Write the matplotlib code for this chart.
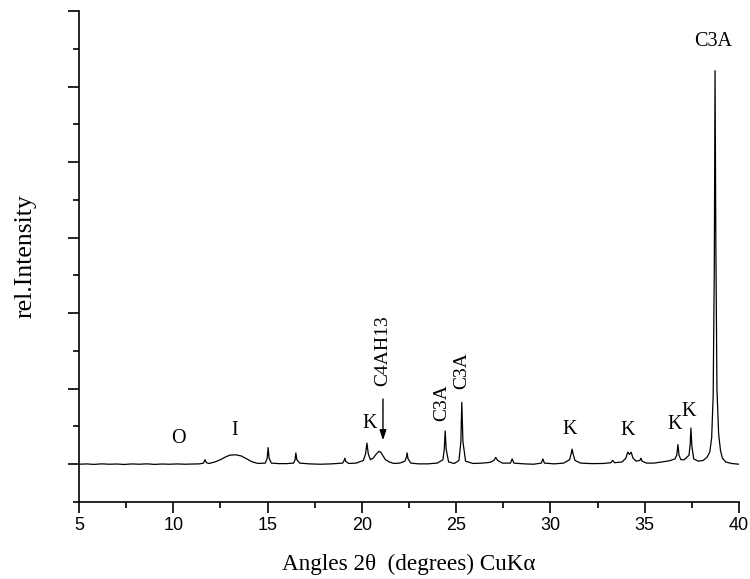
import matplotlib
matplotlib.use("Agg")
import matplotlib.pyplot as plt
from matplotlib.ticker import MultipleLocator

# XRD trace (2theta in degrees, relative intensity; baseline = 0)
two_theta = [5.0, 5.4, 5.8, 6.2, 6.6, 7.0, 7.4, 7.8, 8.2, 8.6, 9.0, 9.4, 9.8, 10.2, 10.6, 11.0, 11.4,
             11.6, 11.68, 11.76, 11.9, 12.2, 12.5, 12.8, 13.0, 13.3, 13.6, 13.9, 14.2, 14.5,
             14.88, 14.98, 15.03, 15.08, 15.2, 15.6, 16.0, 16.38, 16.46, 16.5, 16.55, 16.7,
             17.2, 17.8, 18.4, 18.98, 19.06, 19.1, 19.14, 19.3, 19.7, 20.08, 20.2, 20.27,
             20.34, 20.45, 20.6, 20.75, 20.9, 21.0, 21.1, 21.25, 21.45, 21.7, 22.0, 22.28,
             22.36, 22.4, 22.45, 22.6, 23.0, 23.5, 24.0, 24.3, 24.37, 24.42, 24.47, 24.6,
             24.9, 25.15, 25.25, 25.3, 25.36, 25.5, 25.9, 26.4, 26.8, 27.0, 27.1, 27.2, 27.45,
             27.88, 27.97, 28.06, 28.6, 29.1, 29.52, 29.6, 29.68, 30.2, 30.7, 31.02, 31.1,
             31.15, 31.2, 31.3, 31.6, 32.2, 32.8, 33.2, 33.3, 33.4, 33.8, 34.0, 34.1, 34.19,
             34.28, 34.38, 34.55, 34.74, 34.8, 34.86, 35.1, 35.5, 35.9, 36.3, 36.6, 36.7,
             36.76, 36.82, 36.92, 37.1, 37.35, 37.41, 37.45, 37.5, 37.6, 37.85, 38.1, 38.3,
             38.45, 38.55, 38.63, 38.69, 38.73, 38.77, 38.83, 38.92, 39.02, 39.12, 39.3,
             39.6, 40.0]
intensity = [0.0, 0.004, -0.002, 0.005, 0.0, 0.003, -0.003, 0.004, 0.0, 0.005, -0.002, 0.003, 0.0, 0.004, 0.0, 0.003, 0.005,
             0.015, 0.06, 0.02, 0.01, 0.03, 0.06, 0.1, 0.12, 0.125, 0.11, 0.07, 0.03, 0.01,
             0.015, 0.08, 0.22, 0.08, 0.015, 0.008, 0.008, 0.015, 0.06, 0.15, 0.06, 0.015,
             0.005, 0.0, 0.005, 0.015, 0.05, 0.08, 0.04, 0.01, 0.015, 0.05, 0.14, 0.28,
             0.14, 0.06, 0.08, 0.13, 0.17, 0.16, 0.12, 0.06, 0.03, 0.01, 0.015, 0.04,
             0.09, 0.15, 0.07, 0.015, 0.005, 0.005, 0.015, 0.06, 0.2, 0.44, 0.2, 0.03,
             0.01, 0.05, 0.3, 0.82, 0.3, 0.04, 0.01, 0.015, 0.025, 0.05, 0.09, 0.05, 0.015,
             0.015, 0.07, 0.015, 0.005, 0.0, 0.015, 0.07, 0.015, 0.005, 0.015, 0.06, 0.14,
             0.2, 0.14, 0.05, 0.015, 0.008, 0.01, 0.02, 0.05, 0.02, 0.03, 0.08, 0.16, 0.13,
             0.16, 0.08, 0.04, 0.05, 0.08, 0.04, 0.015, 0.015, 0.03, 0.045, 0.07, 0.12,
             0.26, 0.12, 0.06, 0.06, 0.12, 0.26, 0.48, 0.24, 0.07, 0.04, 0.05, 0.09,
             0.16, 0.35, 0.9, 2.6, 5.21, 3.0, 1.0, 0.4, 0.18, 0.08, 0.03,
             0.01, 0.0]

# Peak labels
label_text = ["O", "I", "K", "C3A", "C3A", "K", "K", "K", "K", "C3A", "C4AH13"]
label_x = [10.25, 13.27, 20.43, 24.25, 25.31, 31.04, 34.11, 36.6, 37.35, 38.62, 21.12]
label_y = [0.34, 0.45, 0.54, 0.82, 1.24, 0.46, 0.45, 0.52, 0.70, 5.6, 1.51]
label_rot = [0, 0, 0, 90, 90, 0, 0, 0, 0, 0, 90]

arrow_x = 21.12
arrow_from = 0.90
arrow_to = 0.28

x_ticks = [5, 10, 15, 20, 25, 30, 35, 40]

serif = ["Liberation Serif", "DejaVu Serif"]
sans = ["Liberation Sans", "DejaVu Sans"]

fig = plt.figure(figsize=(7.5, 5.79), dpi=100)
ax = fig.add_axes([79 / 750, 1 - 502 / 579, 660 / 750, 491 / 579])

ax.plot(two_theta, intensity, color="black", lw=0.9)

ax.set_xlim(5, 40)
ax.set_ylim(-0.5, 6.0)
ax.set_xticks(x_ticks)
ax.xaxis.set_minor_locator(MultipleLocator(2.5))
ax.yaxis.set_major_locator(MultipleLocator(1.0))
ax.yaxis.set_minor_locator(MultipleLocator(0.5))
ax.set_yticklabels([])

for s in ("top", "right"):
    ax.spines[s].set_visible(False)
for s in ("left", "bottom"):
    ax.spines[s].set_linewidth(1.2)

ax.tick_params(axis="both", which="major", direction="out", length=8, width=1.2)
ax.tick_params(axis="both", which="minor", direction="out", length=4, width=1.2)
ax.tick_params(axis="x", which="major", pad=3, labelsize=13)
for t in ax.get_xticklabels():
    t.set_family(sans)

ax.set_xlabel("Angles 2θ  (degrees) CuKα", fontsize=16.7, family=serif, labelpad=14)
ax.set_ylabel("rel.Intensity", fontsize=18.5, family=serif, labelpad=19)

for txt, x, y, r in zip(label_text, label_x, label_y, label_rot):
    fs = 14 if r == 90 else 14.5
    ax.text(x, y, txt, rotation=r, ha="center", va="center", fontsize=fs, family=serif)

ax.annotate("", xy=(arrow_x, arrow_to), xytext=(arrow_x, arrow_from),
            arrowprops=dict(arrowstyle="-|>,head_length=0.6,head_width=0.2", color="black", lw=1.0))

fig.savefig("out.png", dpi=100)
